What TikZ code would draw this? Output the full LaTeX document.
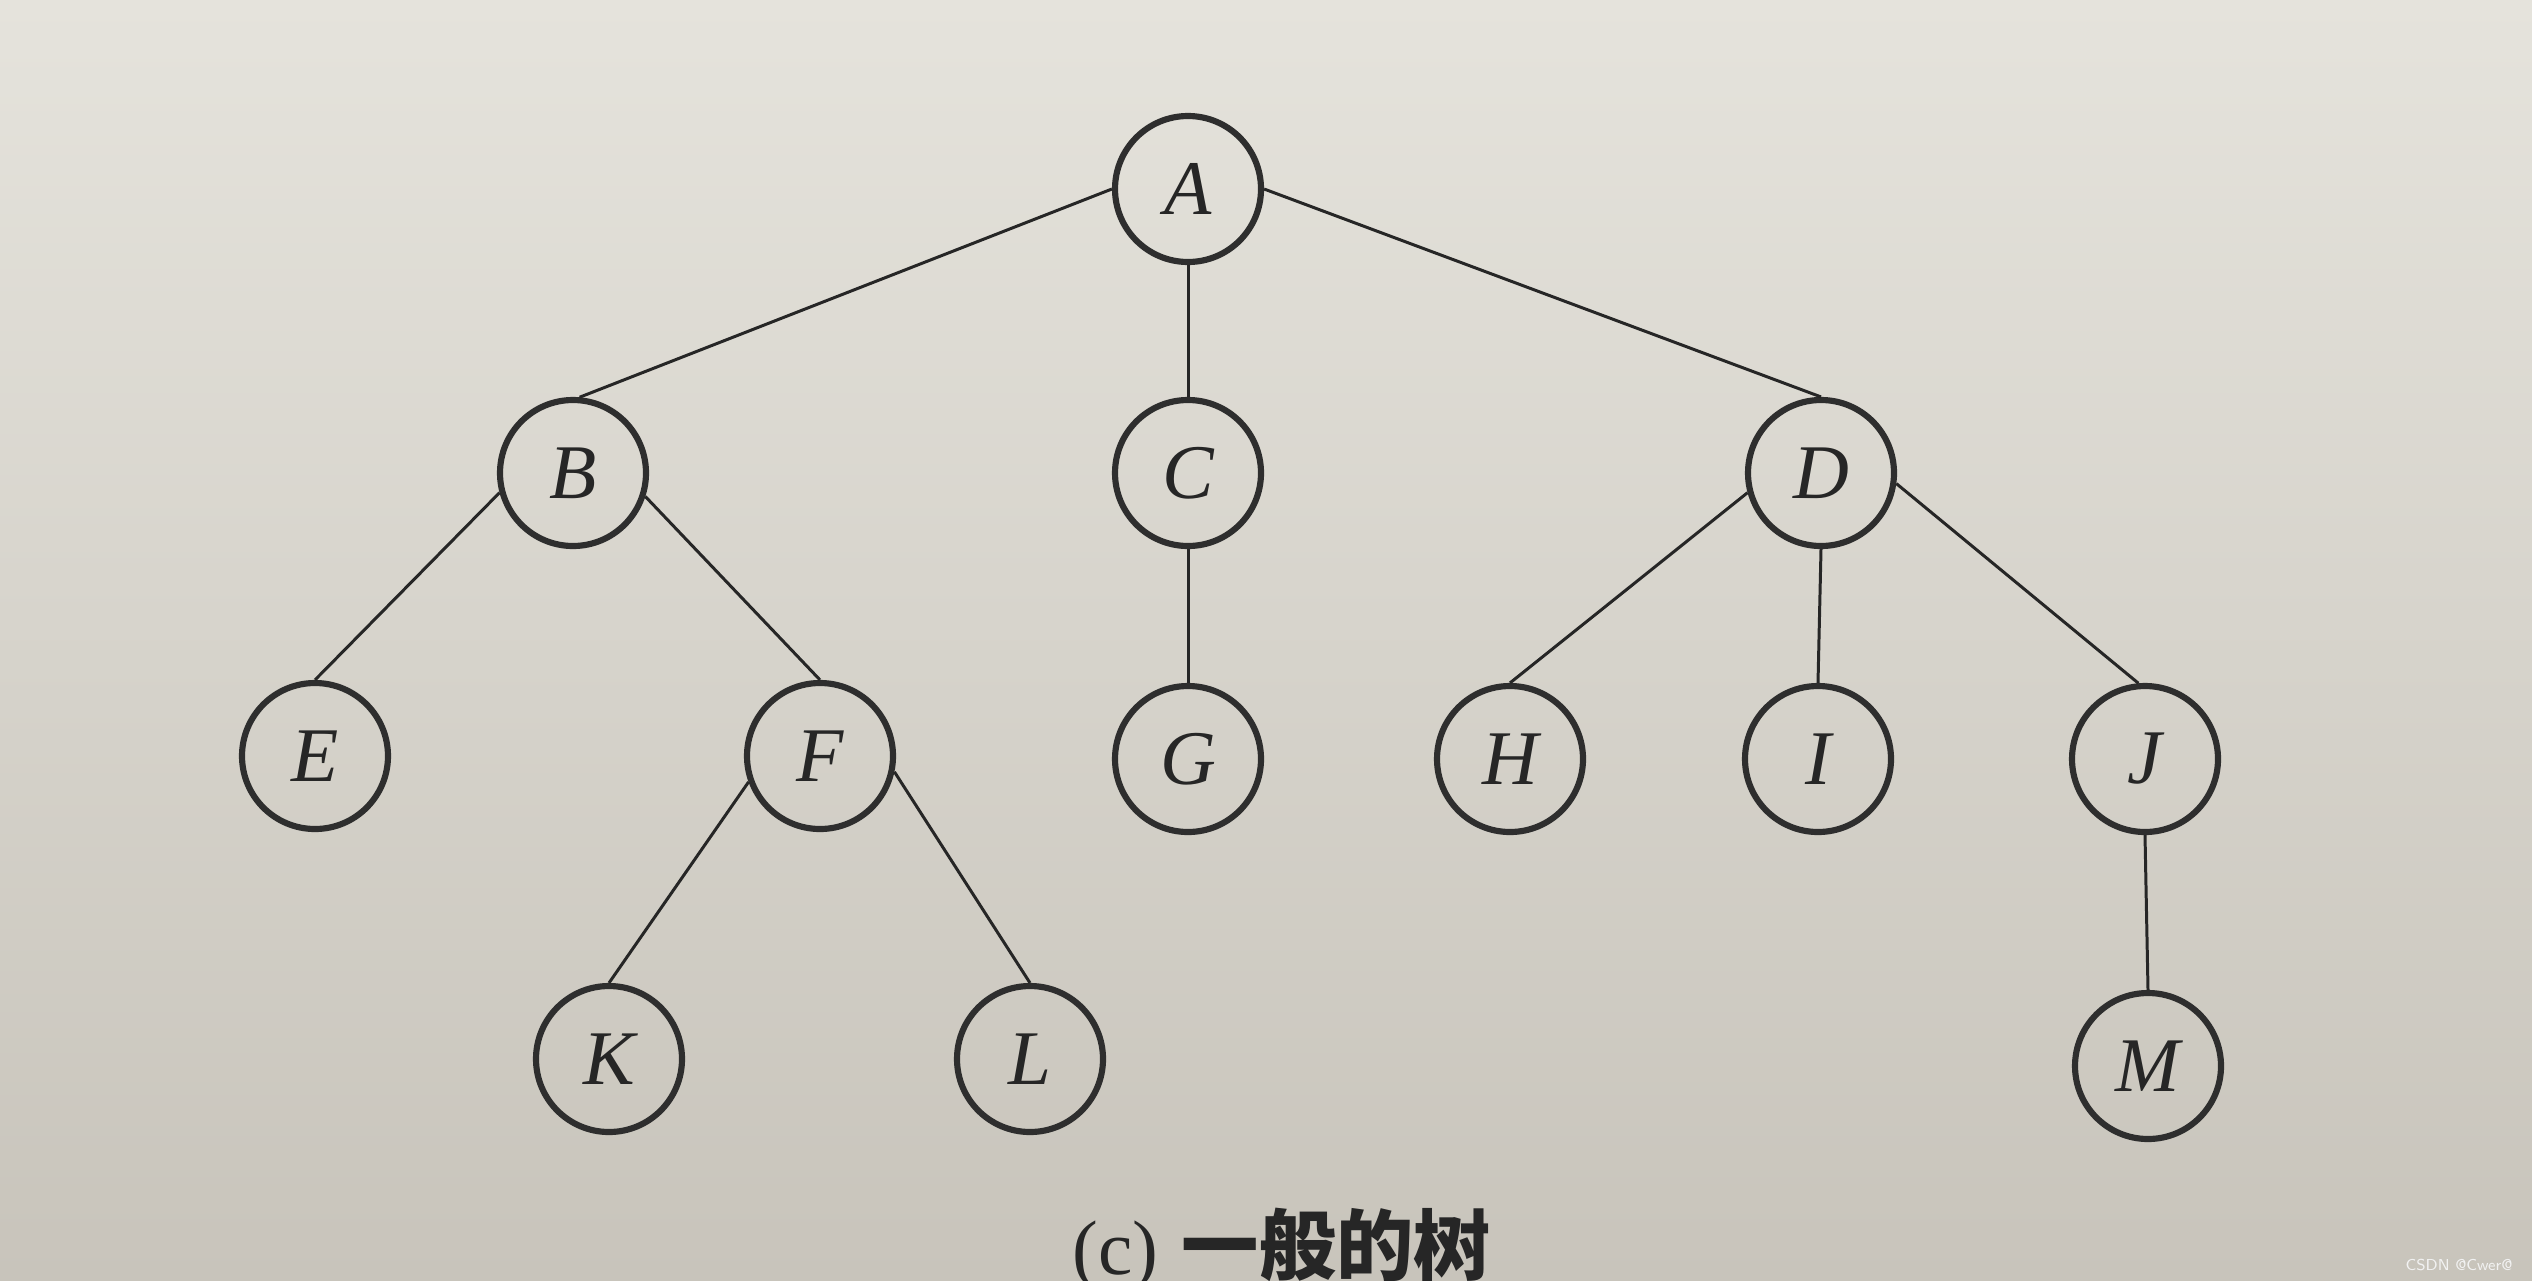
\documentclass[tikz,border=0pt]{standalone}
\usepackage{fontspec}
\setmainfont{Liberation Serif}
\newfontfamily\cjk{Noto Sans CJK SC}
\begin{document}
\begin{tikzpicture}[x=0.1mm,y=-0.1mm,
  tnode/.style={circle,draw=black!82,line width=1.75pt,minimum size=14.6mm,inner sep=0pt,
    font=\fontsize{22}{26}\selectfont\itshape,text=black!85},
  edge/.style={draw=black!85,line width=0.85pt}]
\shade[top color={rgb,255:red,229;green,227;blue,220},bottom color={rgb,255:red,200;green,196;blue,187}]
  (0,0) rectangle (2532,1280);
\useasboundingbox (0,0) rectangle (2532,1280);
\node[tnode] (A) at (1188,189) {A};
\node[tnode] (B) at (573,473) {B};
\node[tnode] (C) at (1188,473) {C};
\node[tnode] (D) at (1821,473) {D};
\node[tnode] (E) at (315,756) {E};
\node[tnode] (F) at (820,756) {F};
\node[tnode] (G) at (1188,759) {G};
\node[tnode] (H) at (1510,759) {H};
\node[tnode] (I) at (1818,759) {I};
\node[tnode] (J) at (2145,759) {J};
\node[tnode] (K) at (609,1059) {K};
\node[tnode] (L) at (1030,1059) {L};
\node[tnode] (M) at (2148,1066) {M};
\draw[edge] (A.180) -- (B.85);
\draw[edge] (A.south) -- (C.north);
\draw[edge] (A.0) -- (D.north);
\draw[edge] (B.195) -- (E.north);
\draw[edge] (B.-18) -- (F.north);
\draw[edge] (C.south) -- (G.north);
\draw[edge] (D.195) -- (H.north);
\draw[edge] (D.south) -- (I.north);
\draw[edge] (D.-8) -- (J.95);
\draw[edge] (F.200) -- (K.north);
\draw[edge] (F.-12) -- (L.north);
\draw[edge] (J.south) -- (M.north);
\node[text=black!85,font=\fontsize{22}{26}\selectfont] (cap) at (1282,1250) {(c)\hspace{0.3em}{\cjk\bfseries 一般的树}};
\node[text=white!90!gray,font=\fontsize{4.5}{5}\selectfont\sffamily,anchor=east] (wm) at (2525,1265) {CSDN @Cwer@};
\end{tikzpicture}
\end{document}
